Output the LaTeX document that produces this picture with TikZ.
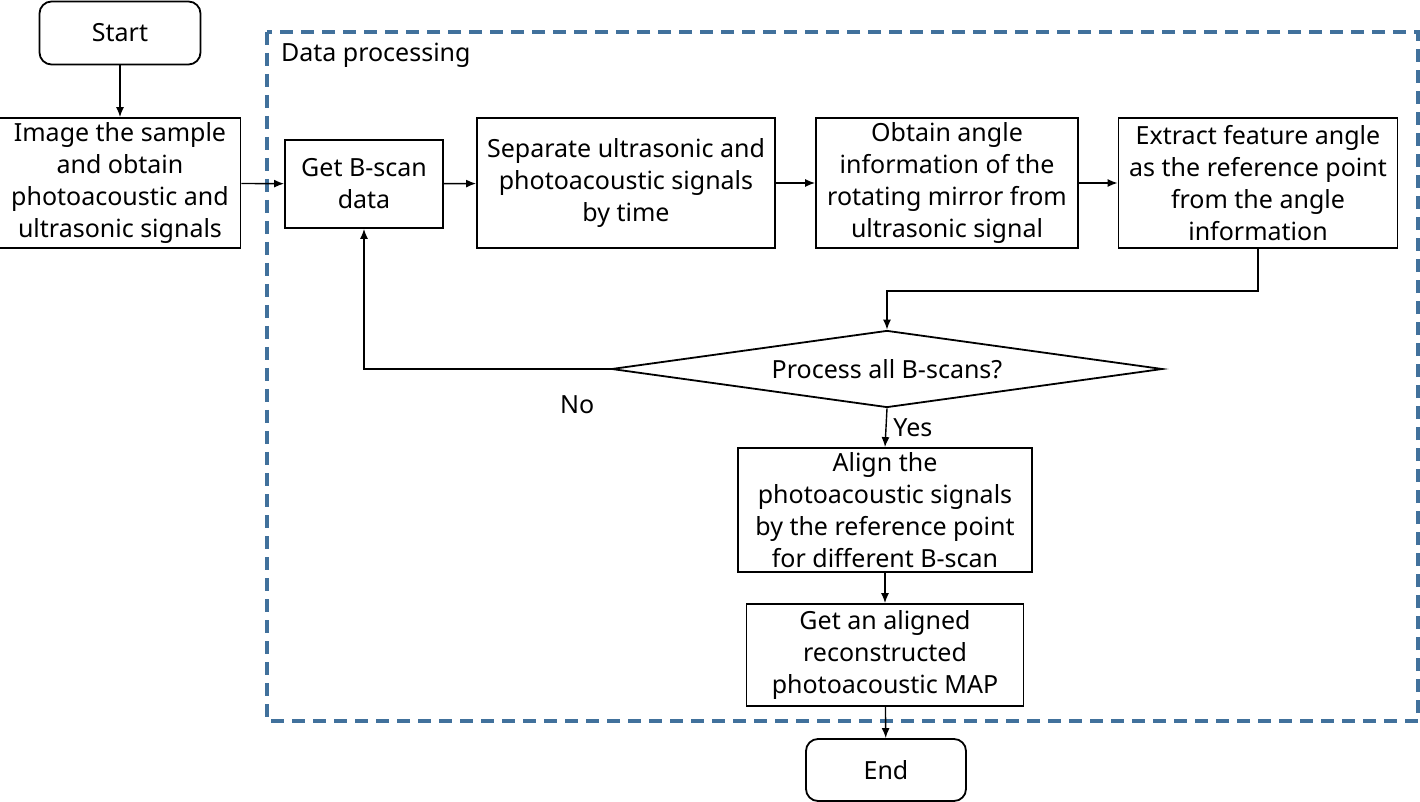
\documentclass[tikz,border=0pt]{standalone}
\usepackage{fontspec}
\setmainfont{Noto Sans}
\usetikzlibrary{arrows.meta,shapes.geometric}

\tikzset{
	box/.style={draw, line width=0.9pt, align=center, inner sep=1pt, font=\fontsize{12.5}{16}\selectfont},
	term/.style={box, rounded corners=6pt},
	line/.style={line width=0.7pt, -{Latex[length=5pt,width=4pt]}},
}

\begin{document}
\begin{tikzpicture}[x=0.5pt,y=-0.5pt]
	\useasboundingbox (0,0) rectangle (1420,802);
	\draw [line width=1.8pt, color={rgb,255:red,65;green,113;blue,156}, dash pattern=on 6.5pt off 4pt] (267,32) rectangle (1418,721);
	\node [anchor=west, font=\fontsize{12.5}{16}\selectfont] (dp) at (274,55) {Data processing};
	\node [term, minimum width=80.5pt, minimum height=31.5pt] (start) at (120,33) {Start};
	\node [box, minimum width=120.5pt, minimum height=65pt] (image) at (120,183) {Image the sample\\and obtain\\photoacoustic and\\ultrasonic signals};
	\node [box, minimum width=79pt, minimum height=44pt] (getb) at (364,184) {Get B-scan\\data};
	\node [box, minimum width=149pt, minimum height=65pt] (sep) at (626,183) {Separate ultrasonic and\\photoacoustic signals\\by time};
	\node [box, minimum width=131pt, minimum height=65pt] (obt) at (947,183) {Obtain angle\\information of the\\rotating mirror from\\ultrasonic signal};
	\node [box, minimum width=139.5pt, minimum height=65pt] (ext) at (1258,183) {Extract feature angle\\as the reference point\\from the angle\\information};
	\node [box, shape=diamond, aspect=7.1, minimum width=275.5pt, minimum height=38.5pt, inner sep=0pt] (dec) at (887,369) {Process all B-scans?};
	\node [box, minimum width=147pt, minimum height=62pt] (align) at (885,510) {Align the\\photoacoustic signals\\by the reference point\\for different B-scan};
	\node [box, minimum width=138.5pt, minimum height=51pt] (map) at (885,655) {Get an aligned\\reconstructed\\photoacoustic MAP};
	\node [term, minimum width=80pt, minimum height=31pt] (end) at (886,770) {End};
	\draw [line] (start) -- (image);
	\draw [line] (image) -- (getb);
	\draw [line] (getb) -- (sep);
	\draw [line] (sep) -- (obt);
	\draw [line] (obt) -- (ext);
	\draw [line] (ext.south) -- ++(0,42) -| (dec.north);
	\draw [line] (dec.west) node [anchor=north east, xshift=-4.5pt, yshift=-9.5pt, font=\fontsize{12.5}{16}\selectfont] {No} -| (getb.south);
	\draw [line] (dec.south) -- (align.north) node [midway, right, font=\fontsize{12.5}{16}\selectfont] {Yes};
	\draw [line] (align) -- (map);
	\draw [line] (map) -- (end);
\end{tikzpicture}
\end{document}
